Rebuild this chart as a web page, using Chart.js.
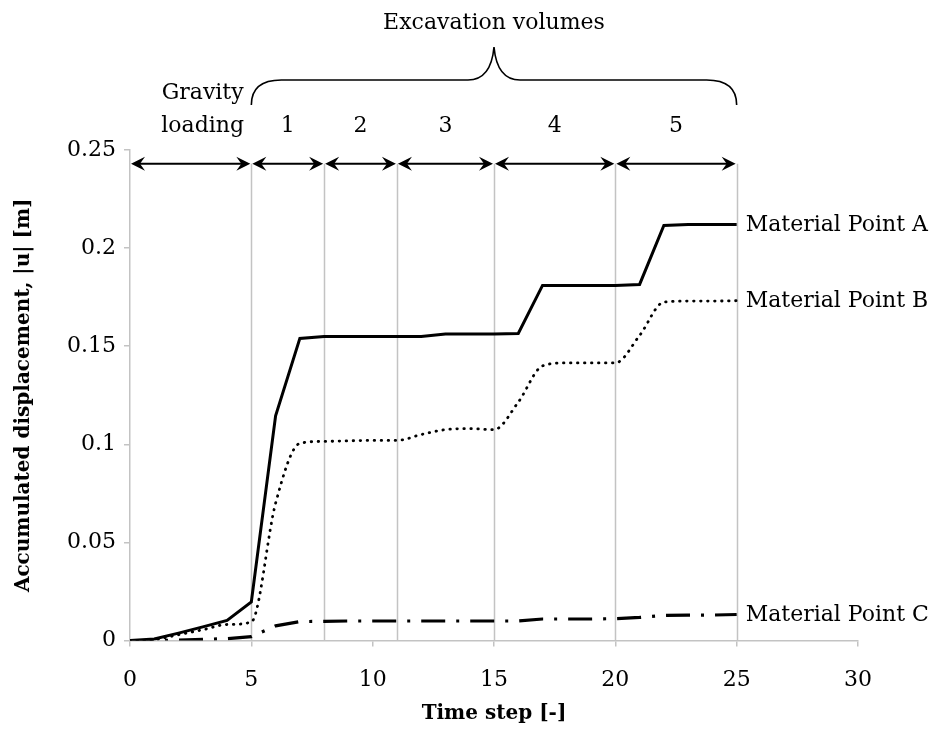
<!DOCTYPE html>
<html>
<head>
<meta charset="utf-8">
<script src="https://cdn.jsdelivr.net/npm/chart.js@4"></script>
<style>
  html, body { margin: 0; padding: 0; background: #fff; }
  #wrap { width: 941px; height: 751px; position: relative; }
</style>
</head>
<body>
<div id="wrap"><canvas id="chart"></canvas></div>
<script>
// values (time step 0..25)
const timeSteps = [0, 1, 2, 3, 4, 5, 6, 7, 8, 9, 10, 11, 12, 13, 14, 15, 16, 17, 18, 19, 20, 21, 22, 23, 24, 25];
const pointA = [0, 0.0008, 0.0038, 0.007, 0.0103, 0.0197, 0.1146, 0.154, 0.155, 0.155, 0.155, 0.155, 0.155, 0.1562, 0.1563, 0.1563, 0.1565, 0.181, 0.181, 0.181, 0.181, 0.1815, 0.2115, 0.212, 0.212, 0.212];
const pointB = [0, 0.0005, 0.003, 0.0055, 0.0082, 0.0095, 0.07, 0.1005, 0.1015, 0.1018, 0.102, 0.102, 0.105, 0.1075, 0.108, 0.1075, 0.1215, 0.14, 0.1415, 0.1415, 0.1415, 0.1555, 0.1725, 0.173, 0.173, 0.1732];
const pointC = [0, 0, 0.0003, 0.0006, 0.001, 0.002, 0.0075, 0.0097, 0.0098, 0.01, 0.01, 0.01, 0.01, 0.01, 0.01, 0.01, 0.01, 0.011, 0.011, 0.011, 0.0112, 0.0118, 0.0128, 0.013, 0.013, 0.0133];
const seriesNames = ["Material Point A", "Material Point B", "Material Point C"];

const xTicks = [0, 5, 10, 15, 20, 25, 30];
const yTicks = [0, 0.05, 0.1, 0.15, 0.2, 0.25];

// stage boundaries (time steps) and their labels
const stageBounds = [0, 5, 8, 11, 15, 20, 25];
const stageLabels = [["Gravity", "loading"], ["1"], ["2"], ["3"], ["4"], ["5"]];
const braceTitle = "Excavation volumes";

const FONT = "'DejaVu Serif', serif";
const GRID = "#c3c3c3";

function toXY(ys) {
    return timeSteps.map((t, i) => ({x: t, y: ys[i]}));
}

function arrowHead(ctx, x, y, dir) {
    // stealth style head, dir = +1 points right, -1 points left
    ctx.beginPath();
    ctx.moveTo(x, y);
    ctx.lineTo(x - dir * 14, y - 7);
    ctx.lineTo(x - dir * 9, y);
    ctx.lineTo(x - dir * 14, y + 7);
    ctx.closePath();
    ctx.fill();
}

const stagePlugin = {
    id: "stages",
    beforeDatasetsDraw(chart) {
        const {ctx, scales: {x, y}} = chart;
        const yTop = y.getPixelForValue(0.243);
        const yBot = y.getPixelForValue(0);
        ctx.save();
        ctx.strokeStyle = GRID;
        ctx.lineWidth = 1.5;
        stageBounds.slice(1).forEach(b => {
            const px = Math.round(x.getPixelForValue(b)) + 0.5;
            ctx.beginPath();
            ctx.moveTo(px, yTop);
            ctx.lineTo(px, yBot);
            ctx.stroke();
        });
        ctx.restore();
    },
    afterDraw(chart) {
        const {ctx, scales: {x, y}, chartArea} = chart;
        const yArr = y.getPixelForValue(0.243);
        const top = chartArea.top;
        ctx.save();
        ctx.strokeStyle = "#000";
        ctx.fillStyle = "#000";
        ctx.lineWidth = 2;

        // double arrows
        for (let i = 0; i < stageBounds.length - 1; i++) {
            const x0 = x.getPixelForValue(stageBounds[i]) + 1;
            const x1 = x.getPixelForValue(stageBounds[i + 1]) - 1;
            ctx.beginPath();
            ctx.moveTo(x0 + 6, yArr);
            ctx.lineTo(x1 - 6, yArr);
            ctx.stroke();
            arrowHead(ctx, x0, yArr, -1);
            arrowHead(ctx, x1, yArr, 1);

            // stage label
            const cx = (x0 + x1) / 2;
            ctx.font = "22px " + FONT;
            ctx.textAlign = "center";
            ctx.textBaseline = "alphabetic";
            const lines = stageLabels[i];
            lines.forEach((t, k) => {
                const ty = top - 18 - (lines.length - 1 - k) * 33;
                ctx.fillText(t, cx + (lines.length > 1 ? 12 : 0), ty);
            });
        }

        // brace over the excavation stages
        const bl = x.getPixelForValue(stageBounds[1]);
        const br = x.getPixelForValue(stageBounds[stageBounds.length - 1]);
        const bm = x.getPixelForValue(15);
        const yb = top - 45, yh = top - 70, yp = top - 103;
        ctx.lineWidth = 1.6;
        ctx.beginPath();
        ctx.moveTo(bl, yb);
        ctx.quadraticCurveTo(bl, yh, bl + 30, yh);
        ctx.lineTo(bm - 26, yh);
        ctx.quadraticCurveTo(bm - 3, yh, bm, yp);
        ctx.quadraticCurveTo(bm + 3, yh, bm + 26, yh);
        ctx.lineTo(br - 30, yh);
        ctx.quadraticCurveTo(br, yh, br, yb);
        ctx.stroke();

        ctx.font = "22px " + FONT;
        ctx.textAlign = "center";
        ctx.fillText(braceTitle, bm, top - 121);

        // series labels at the line ends
        ctx.textAlign = "left";
        ctx.textBaseline = "middle";
        const last = timeSteps[timeSteps.length - 1];
        [pointA, pointB, pointC].forEach((s, k) => {
            ctx.fillText(seriesNames[k], x.getPixelForValue(last) + 9, y.getPixelForValue(s[s.length - 1]) + 1);
        });
        ctx.restore();
    }
};

new Chart(document.getElementById("chart"), {
    type: "line",
    data: {
        datasets: [
            {
                label: seriesNames[0],
                data: toXY(pointA),
                borderColor: "#000",
                borderWidth: 3,
                pointRadius: 0,
                tension: 0
            },
            {
                label: seriesNames[1],
                data: toXY(pointB),
                borderColor: "#000",
                borderWidth: 2.8,
                borderDash: [0.5, 6.5],
                borderCapStyle: "round",
                cubicInterpolationMode: "monotone",
                pointRadius: 0
            },
            {
                label: seriesNames[2],
                data: toXY(pointC),
                borderColor: "#000",
                borderWidth: 3.2,
                borderDash: [24, 11, 3, 11],
                pointRadius: 0,
                tension: 0
            }
        ]
    },
    options: {
        responsive: true,
        maintainAspectRatio: false,
        animation: false,
        layout: {padding: {top: 150, right: 83, left: 8, bottom: 21}},
        plugins: {legend: {display: false}, tooltip: {enabled: false}},
        scales: {
            x: {
                type: "linear",
                min: 0,
                max: 30,
                afterBuildTicks: s => { s.ticks = xTicks.map(v => ({value: v})); },
                ticks: {color: "#000", font: {family: FONT, size: 22}, padding: 20},
                grid: {drawOnChartArea: false, drawTicks: true, tickLength: 6, color: GRID, lineWidth: 1.5},
                border: {color: GRID, width: 1.5},
                title: {display: true, text: "Time step [-]", color: "#000", font: {family: FONT, size: 20, weight: "bold"}, padding: {top: -11, bottom: 4}}
            },
            y: {
                min: 0,
                max: 0.25,
                afterBuildTicks: s => { s.ticks = yTicks.map(v => ({value: v})); },
                afterFit: s => { s.width = 122; },
                ticks: {color: "#000", font: {family: FONT, size: 22}, padding: 8, callback: v => String(v)},
                grid: {drawOnChartArea: false, drawTicks: true, tickLength: 6, color: GRID, lineWidth: 1.5},
                border: {color: GRID, width: 1.5},
                title: {display: true, text: "Accumulated displacement, |u| [m]", color: "#000", font: {family: FONT, size: 20, weight: "bold"}}
            }
        }
    },
    plugins: [stagePlugin]
});
</script>
</body>
</html>
